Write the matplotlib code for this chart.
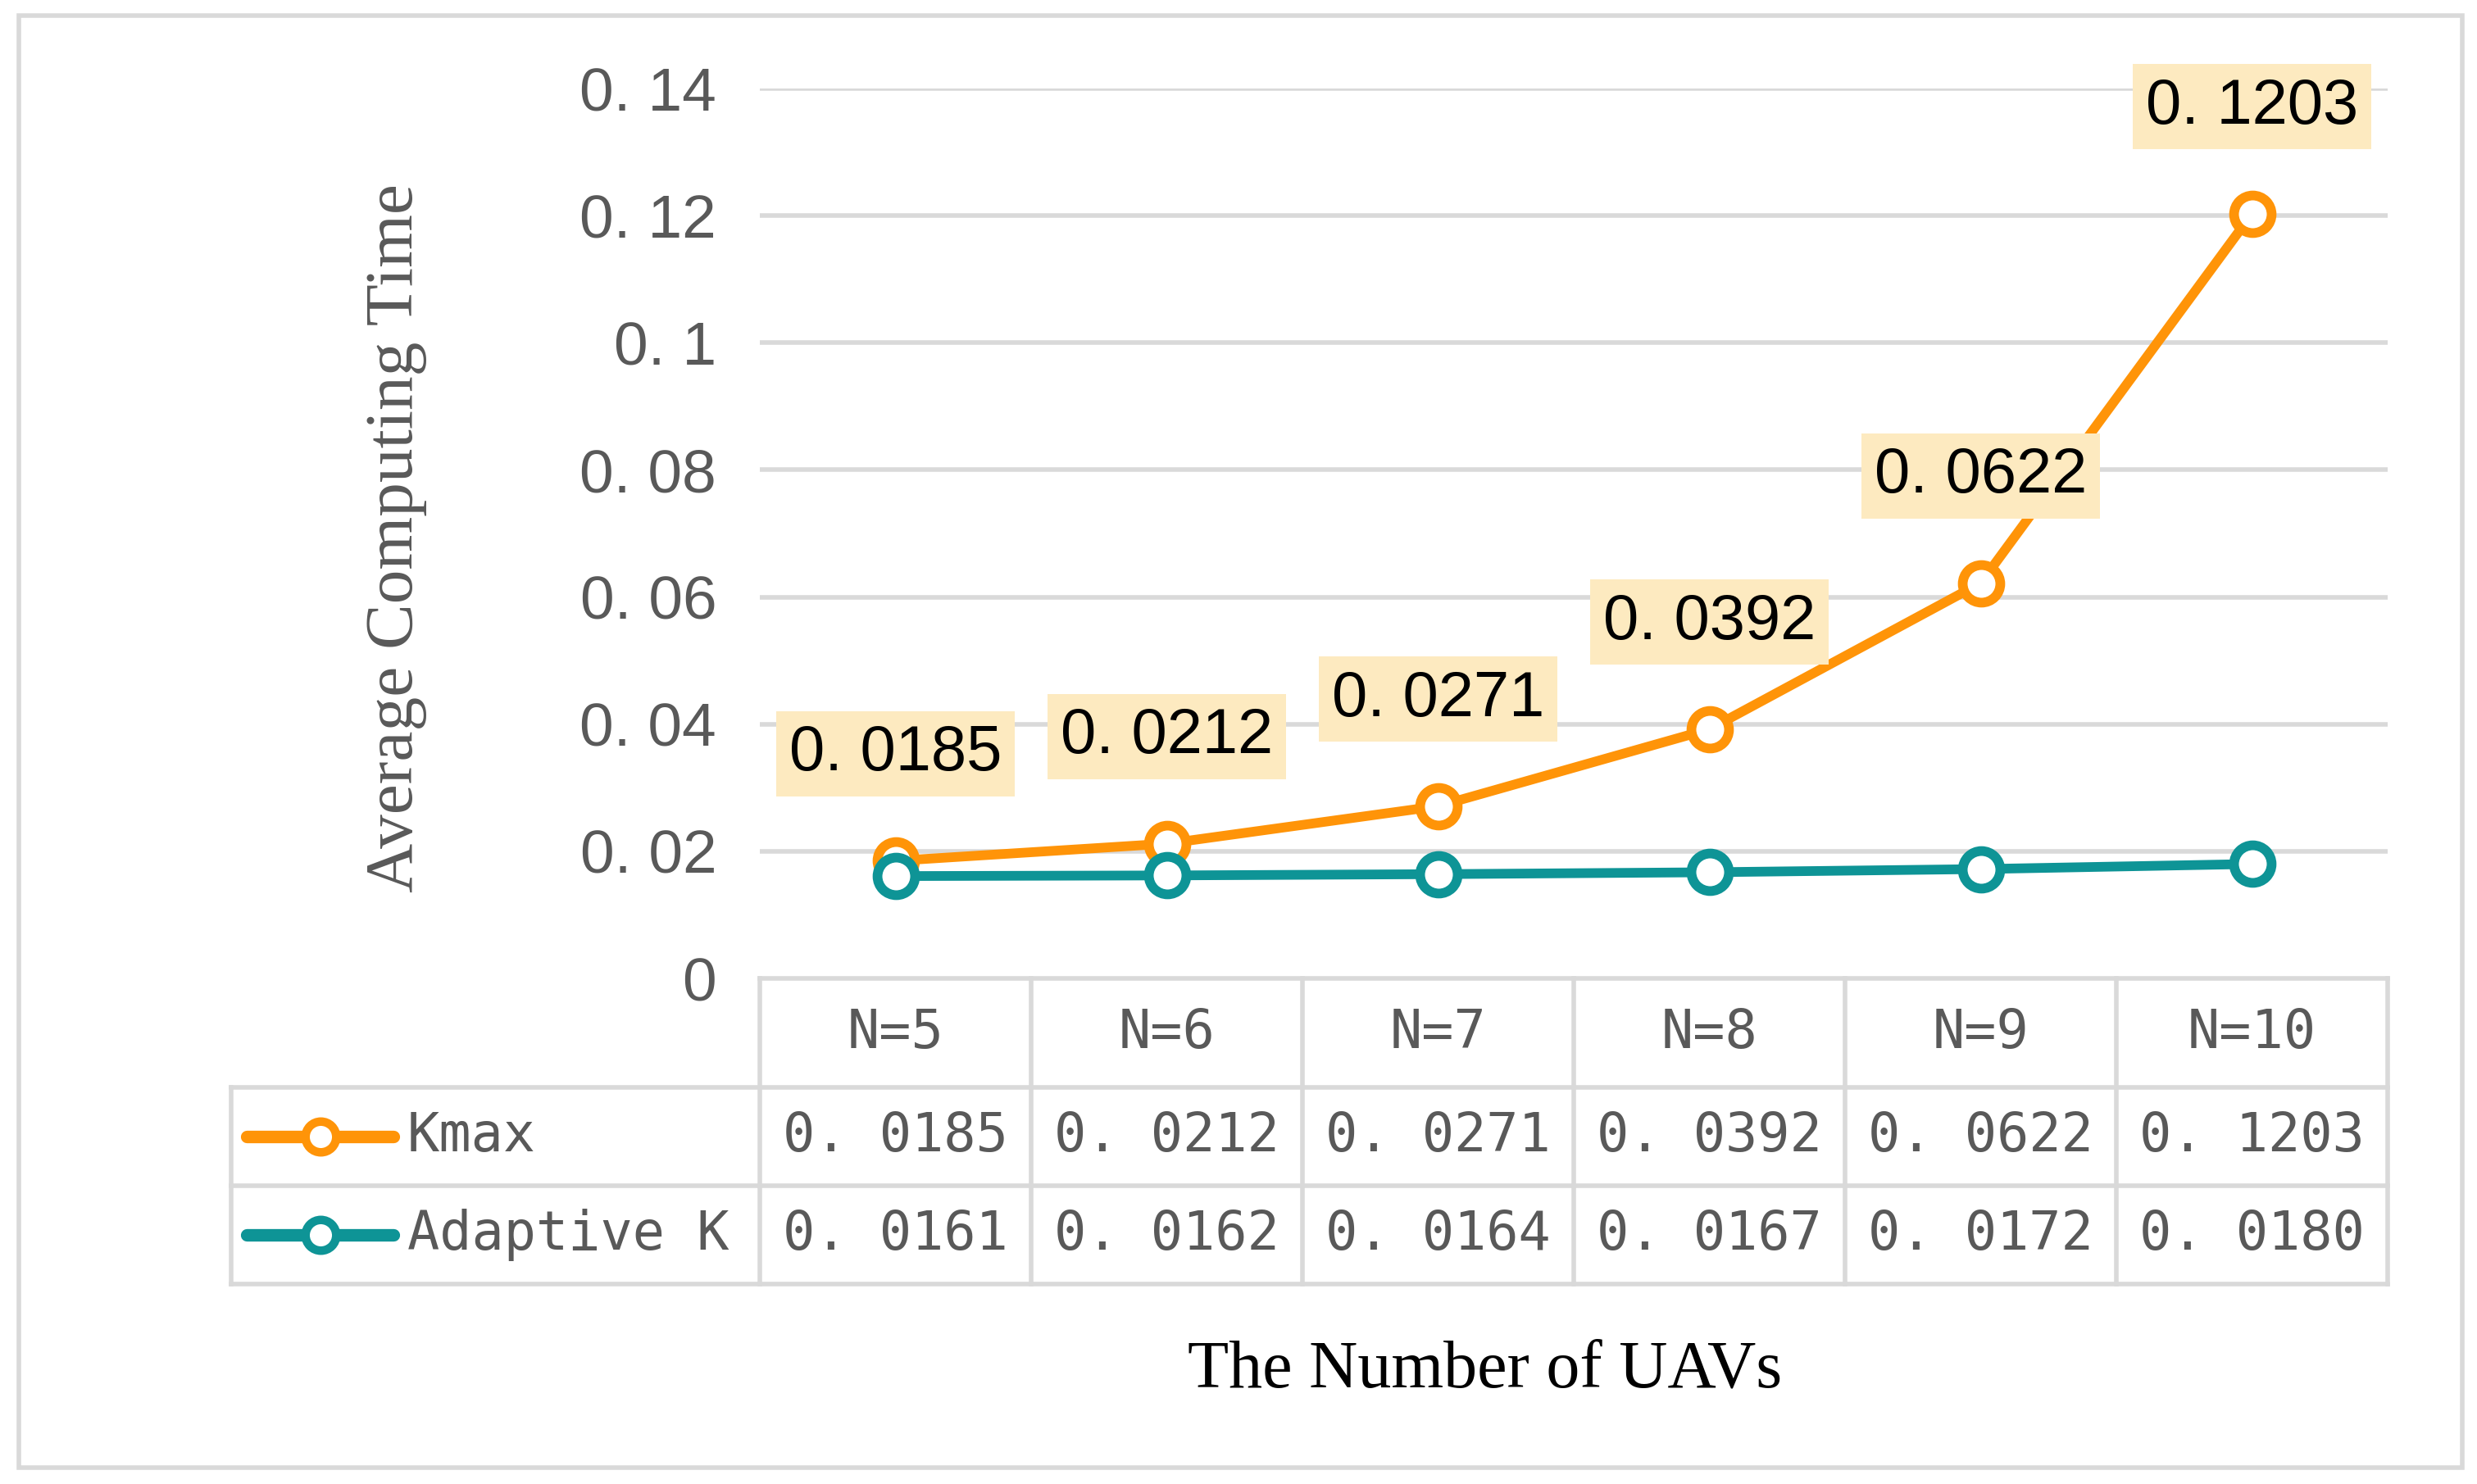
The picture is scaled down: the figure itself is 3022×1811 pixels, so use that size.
import matplotlib
matplotlib.use('Agg')
import matplotlib.pyplot as plt
import matplotlib.transforms as mtransforms
from matplotlib.patches import Rectangle

# data
cats = ['N=5', 'N=6', 'N=7', 'N=8', 'N=9', 'N=10']
kmax = [0.0185, 0.0212, 0.0271, 0.0392, 0.0622, 0.1203]
adaptive = [0.0161, 0.0162, 0.0164, 0.0167, 0.0172, 0.0180]
kmax_txt = ['0. 0185', '0. 0212', '0. 0271', '0. 0392', '0. 0622', '0. 1203']
adap_txt = ['0. 0161', '0. 0162', '0. 0164', '0. 0167', '0. 0172', '0. 0180']
yticks = [0, 0.02, 0.04, 0.06, 0.08, 0.1, 0.12, 0.14]
ytick_labels = ['0', '0. 02', '0. 04', '0. 06', '0. 08', '0. 1', '0. 12', '0. 14']

orange = '#FF9408'
teal = '#0E9496'
grid_c = '#D9D9D9'
txt_c = '#595959'
mono = 'DejaVu Sans Mono'

W, H = 3022, 1811
fig = plt.figure(figsize=(W / 100, H / 100), dpi=100)
ax = fig.add_axes([927 / W, 1 - 1194 / H, (2913 - 927) / W, (1194 - 108) / H])

x = list(range(len(cats)))
ax.set_xlim(-0.5, len(cats) - 0.5)
ax.set_ylim(0, 0.14)
ax.set_yticks(yticks)
ax.set_yticklabels(ytick_labels, fontsize=54, color=txt_c, family='Liberation Sans')
ax.tick_params(axis='y', length=0, pad=38)
ax.set_xticks([])
for s in ax.spines.values():
    s.set_visible(False)
for v in yticks[1:]:
    ax.axhline(v, color=grid_c, lw=4, zorder=0)

ax.plot(x, kmax, color=orange, lw=8.5, marker='o', ms=33, mfc='white', mec=orange, mew=8.5, zorder=3)
ax.plot(x, adaptive, color=teal, lw=8.5, marker='o', ms=33, mfc='white', mec=teal, mew=8.5, zorder=4)

for xi, v, t in zip(x, kmax, kmax_txt):
    ax.annotate(t, (xi, v), xytext=(0, 94), textcoords='offset points', ha='center', va='center',
                fontsize=56, family='Liberation Sans', color='black', annotation_clip=False,
                bbox=dict(boxstyle='square,pad=0.2', fc='#FDEAC0', ec='none'), zorder=5)

# data table below the plot
tr = mtransforms.blended_transform_factory(ax.transData, ax.transAxes)
rows = [0, -0.1225, -0.233, -0.3435]
left = -2.449
lk = dict(color=grid_c, lw=4, transform=tr, clip_on=False, zorder=1)
ax.plot([-0.5, 5.5], [rows[0], rows[0]], **lk)
for r in rows[1:]:
    ax.plot([left, 5.5], [r, r], **lk)
for b in [i - 0.5 for i in range(len(cats) + 1)]:
    ax.plot([b, b], [rows[0], rows[3]], **lk)
ax.plot([left, left], [rows[1], rows[3]], **lk)

fs_tab = 47
for xi, c, a, b in zip(x, cats, kmax_txt, adap_txt):
    ax.text(xi, (rows[0] + rows[1]) / 2, c, transform=tr, ha='center', va='center',
            fontsize=fs_tab, family=mono, color=txt_c)
    ax.text(xi, (rows[1] + rows[2]) / 2, a, transform=tr, ha='center', va='center',
            fontsize=fs_tab, family=mono, color=txt_c)
    ax.text(xi, (rows[2] + rows[3]) / 2, b, transform=tr, ha='center', va='center',
            fontsize=fs_tab, family=mono, color=txt_c)

for name, col, r0, r1 in [('Kmax', orange, rows[1], rows[2]), ('Adaptive K', teal, rows[2], rows[3])]:
    ym = (r0 + r1) / 2
    ax.plot([-2.39, -1.85], [ym, ym], color=col, lw=11, solid_capstyle='round',
            transform=tr, clip_on=False)
    ax.plot([-2.12], [ym], 'o', ms=27, mfc='white', mec=col, mew=7.5, transform=tr, clip_on=False)
    ax.text(-1.80, ym, name, transform=tr, ha='left', va='center', fontsize=fs_tab, family=mono, color=txt_c)

fig.text(483 / W, 1 - 657 / H, 'Average Computing Time', rotation=90, ha='center', va='center',
         fontsize=60, family='Liberation Serif', color=txt_c)
fig.text(1812 / W, 1 - 1673 / H, 'The Number of UAVs', ha='center', va='center',
         fontsize=59, family='Liberation Serif', color='black')

fig.add_artist(Rectangle((23 / W, 1 - 1791 / H), (3004 - 23) / W, (1791 - 19) / H,
                         transform=fig.transFigure, fill=False, ec=grid_c, lw=4))

fig.savefig('out.png', dpi=100, facecolor='white')
